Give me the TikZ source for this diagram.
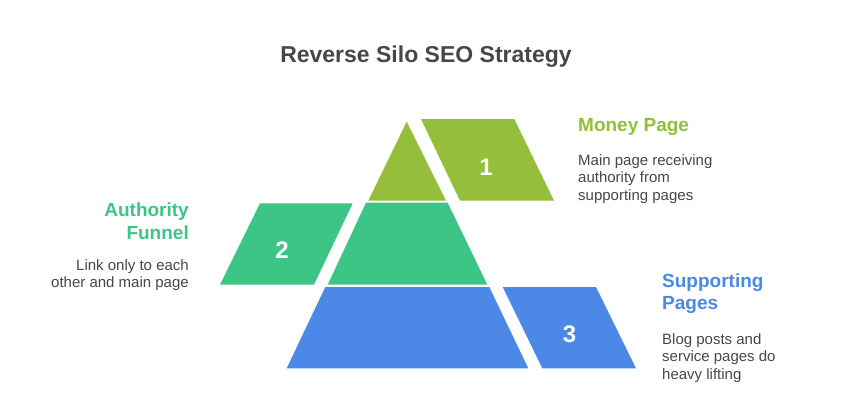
\documentclass[tikz,border=0pt]{standalone}
\usepackage{fontspec}
\setmainfont{Liberation Sans}
\definecolor{cTop}{HTML}{94BE3B}
\definecolor{cMid}{HTML}{3DC585}
\definecolor{cBot}{HTML}{4C88E5}
\definecolor{cTxt}{HTML}{474747}
\begin{document}
\begin{tikzpicture}[x=1pt,y=-1pt,
  numlbl/.style={text=white,font=\fontsize{24}{28}\selectfont\bfseries,inner sep=0pt},
  headlbl/.style={font=\fontsize{19}{22.3}\selectfont\bfseries,inner sep=0pt},
  bodylbl/.style={text=cTxt,font=\fontsize{15}{17.5}\selectfont,inner sep=0pt}]
\useasboundingbox (0,0) rectangle (852,408);
\fill[white] (0,0) rectangle (852,408);
% title
\node[text=cTxt,font=\fontsize{23}{27}\selectfont\bfseries,inner sep=0pt,anchor=base] (title) at (426,62) {Reverse Silo SEO Strategy};
% pyramid
\fill[cTop] (406.7,121.7) -- (446,200.7) -- (368.3,200.7) -- cycle;
\fill[cMid] (366,202.7) -- (447.7,202.7) -- (487.3,284.7) -- (327.7,284.7) -- cycle;
\fill[cBot] (325.3,287) -- (489.3,287) -- (528.3,368.3) -- (286.7,368.3) -- cycle;
% side parallelograms
\fill[cTop] (421,119) -- (514.3,119) -- (554,200.7) -- (460,200.7) -- cycle;
\fill[cMid] (260,203.3) -- (352.7,203.3) -- (314,284.7) -- (220,284.7) -- cycle;
\fill[cBot] (502.7,287) -- (596,287) -- (636,368.3) -- (542.3,368.3) -- cycle;
% numbers
\node[numlbl] (n1) at (486,167) {1};
\node[numlbl] (n2) at (282,250) {2};
\node[numlbl] (n3) at (569.5,334) {3};
% labels (base anchor = baseline of the last line)
\node[headlbl,text=cTop,anchor=base west] (h1) at (578,131) {Money Page};
\node[bodylbl,anchor=base west,align=left] (b1) at (578,200) {Main page receiving\\authority from\\supporting pages};
\node[headlbl,text=cMid,anchor=base east,align=right] (h2) at (189,239) {Authority\\Funnel};
\node[bodylbl,anchor=base east,align=right] (b2) at (189,287.5) {Link only to each\\other and main page};
\node[headlbl,text=cBot,anchor=base west,align=left] (h3) at (662,309.5) {Supporting\\Pages};
\node[bodylbl,anchor=base west,align=left] (b3) at (662,379.3) {Blog posts and\\service pages do\\heavy lifting};
\end{tikzpicture}
\end{document}
